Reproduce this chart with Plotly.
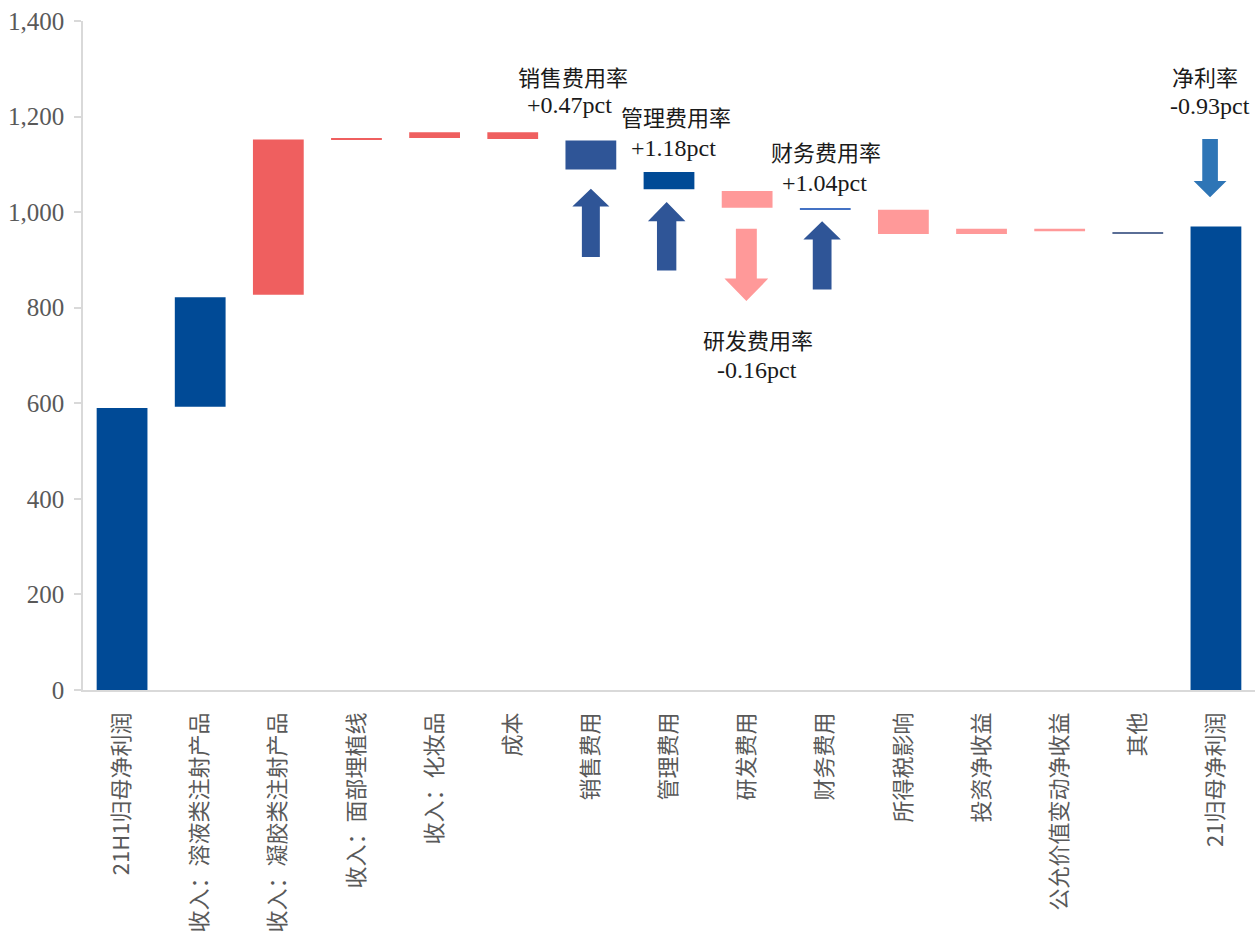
import plotly.graph_objects as go

categories = ["21H1归母净利润", "收入：溶液类注射产品", "收入：凝胶类注射产品", "收入：面部埋植线",
              "收入：化妆品", "成本", "销售费用", "管理费用", "研发费用", "财务费用",
              "所得税影响", "投资净收益", "公允价值变动净收益", "其他", "21归母净利润"]
bar_bottom = [0, 593, 827, 1151.5, 1155, 1153, 1089, 1048, 1009, 1005, 954, 954, 960, 955, 0]
bar_top = [590, 822, 1152, 1155, 1167, 1167, 1150, 1084, 1044, 1007.5, 1005, 965, 965, 957.5, 970]
y_ticks = [0, 200, 400, 600, 800, 1000, 1200, 1400]

DARK = "#004A96"
SALES = "#2F5597"
RED = "#EF5F5F"
PINK = "#FF9999"
bar_colors = [DARK, DARK, RED, RED, RED, RED, SALES, DARK, PINK, "#4472C4",
              PINK, PINK, PINK, "#5A6E96", DARK]

x_idx = list(range(len(categories)))
heights = [t - b for t, b in zip(bar_top, bar_bottom)]

fig = go.Figure()
fig.add_trace(go.Bar(
    x=x_idx, y=heights, base=bar_bottom,
    marker=dict(color=bar_colors, line=dict(width=0)),
    width=0.65, hoverinfo="skip", showlegend=False,
))

# block arrows: (category index, x offset, shaft half width, head half width, tail, head base, tip, color)
arrows = [
    (6, 0.0, 0.115, 0.237, 906, 1012, 1049, SALES),
    (7, -0.03, 0.124, 0.24, 878, 981, 1021, SALES),
    (8, -0.01, 0.134, 0.28, 965, 861, 814, PINK),
    (9, -0.04, 0.12, 0.24, 838, 943, 981, SALES),
    (14, -0.075, 0.10, 0.21, 1153, 1065, 1031, "#2E75B6"),
]
shapes = []
for ci, off, sw, hw, tail, hb, tip, col in arrows:
    c = ci + off
    path = (f"M {c-sw},{tail} L {c+sw},{tail} L {c+sw},{hb} L {c+hw},{hb} "
            f"L {c},{tip} L {c-hw},{hb} L {c-sw},{hb} Z")
    shapes.append(dict(type="path", path=path, xref="x", yref="y",
                       fillcolor=col, line=dict(width=0), layer="above"))

notes = [
    ("销售费用率", 5.77, 1279, 22), ("+0.47pct", 5.73, 1224, 24),
    ("管理费用率", 7.09, 1197, 22), ("+1.18pct", 7.06, 1135, 24),
    ("财务费用率", 9.01, 1122, 22), ("+1.04pct", 8.99, 1061, 24),
    ("研发费用率", 8.14, 729, 22), ("-0.16pct", 8.13, 669, 24),
    ("净利率", 13.86, 1279, 22), ("-0.93pct", 13.92, 1222, 24),
]
annotations = [dict(text=t, x=x, y=y, xref="x", yref="y", showarrow=False,
                    font=dict(family="Liberation Serif, Noto Sans CJK SC", size=s, color="#1a1a1a"))
               for t, x, y, s in notes]

fig.update_layout(
    width=1260, height=938,
    margin=dict(l=83, r=5, t=21, b=246),
    plot_bgcolor="white", paper_bgcolor="white",
    shapes=shapes, annotations=annotations,
    xaxis=dict(
        range=[-0.5, 14.5], tickmode="array", tickvals=x_idx, ticktext=categories,
        tickangle=-90, showgrid=False, zeroline=False, showline=True,
        linecolor="#D9D9D9", linewidth=1.5, ticks="",
        tickfont=dict(family="Noto Sans CJK SC", size=22, color="#595959"),
        ticklabelstandoff=12,
    ),
    yaxis=dict(
        range=[0, 1400], tickmode="array", tickvals=y_ticks, tickformat=",",
        showgrid=False, zeroline=False, showline=True, linecolor="#D9D9D9", linewidth=1.5,
        ticks="outside", ticklen=7, tickcolor="#D9D9D9", tickwidth=1.5,
        tickfont=dict(family="Liberation Serif", size=25, color="#595959"),
        ticklabelstandoff=5,
    ),
)

fig.write_html("out.html")
